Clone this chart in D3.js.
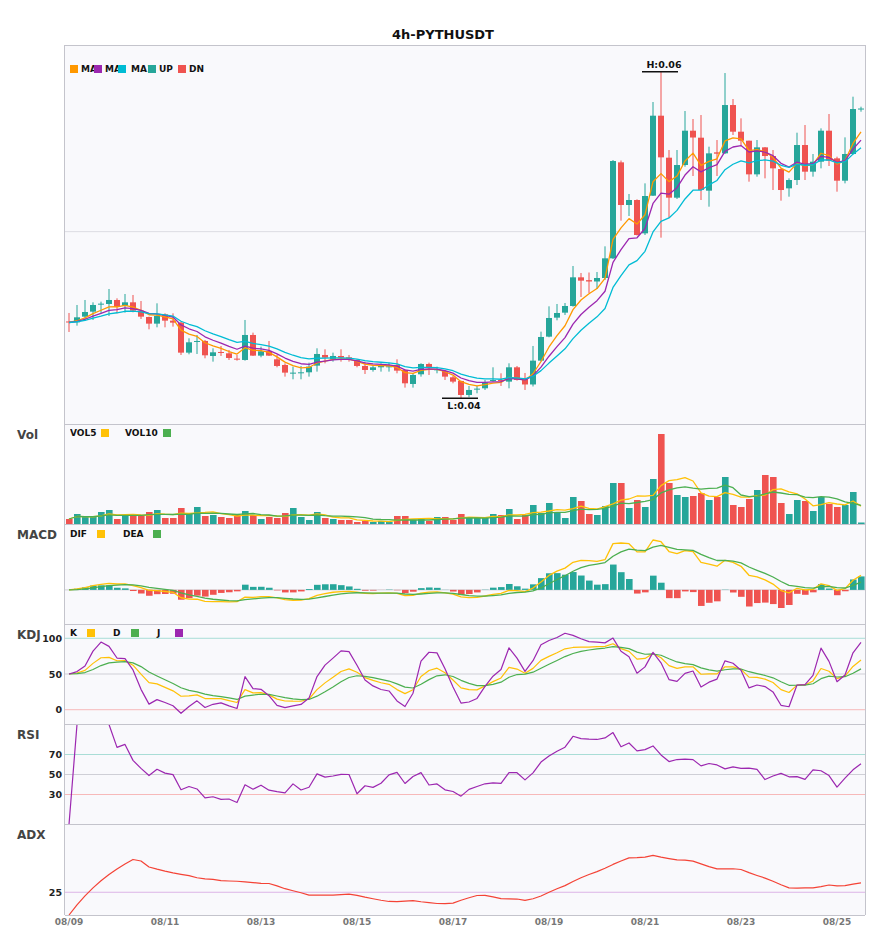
<!DOCTYPE html>
<html>
<head>
<meta charset="utf-8">
<title>4h-PYTHUSDT</title>
<script src="https://cdn.jsdelivr.net/npm/d3@7"></script>
<style>
  body { margin: 0; background: #fff; }
  svg { display: block; font-family: "DejaVu Sans", Verdana, sans-serif; }
</style>
</head>
<body>
<svg id="chart" width="885" height="950"></svg>
<script>
const SYMBOL = '4h-PYTHUSDT';

// 4h candles from 08/09 00:00, [open, high, low, close]
const candles = [
  [0.04461, 0.04512, 0.04398, 0.04455], [0.04456, 0.04560, 0.04436, 0.04486], [0.04490, 0.04590, 0.04466, 0.04518],
  [0.04520, 0.04576, 0.04470, 0.04560], [0.04562, 0.04580, 0.04510, 0.04568], [0.04566, 0.04656, 0.04494, 0.04590],
  [0.04590, 0.04600, 0.04510, 0.04550], [0.04556, 0.04626, 0.04514, 0.04576], [0.04576, 0.04620, 0.04516, 0.04526],
  [0.04526, 0.04584, 0.04476, 0.04490], [0.04488, 0.04490, 0.04414, 0.04448], [0.04448, 0.04570, 0.04426, 0.04494],
  [0.04504, 0.04510, 0.04426, 0.04466], [0.04466, 0.04510, 0.04430, 0.04454], [0.04454, 0.04460, 0.04260, 0.04274],
  [0.04274, 0.04360, 0.04264, 0.04336], [0.04338, 0.04380, 0.04266, 0.04344], [0.04344, 0.04350, 0.04240, 0.04258],
  [0.04254, 0.04300, 0.04220, 0.04276], [0.04278, 0.04314, 0.04254, 0.04272], [0.04270, 0.04290, 0.04230, 0.04242],
  [0.04238, 0.04260, 0.04226, 0.04234], [0.04230, 0.04470, 0.04226, 0.04380], [0.04380, 0.04394, 0.04254, 0.04256],
  [0.04256, 0.04310, 0.04246, 0.04282], [0.04284, 0.04344, 0.04254, 0.04256], [0.04234, 0.04260, 0.04186, 0.04194],
  [0.04200, 0.04210, 0.04130, 0.04154], [0.04152, 0.04190, 0.04114, 0.04154], [0.04154, 0.04194, 0.04114, 0.04156],
  [0.04156, 0.04214, 0.04130, 0.04190], [0.04196, 0.04300, 0.04160, 0.04266], [0.04260, 0.04294, 0.04210, 0.04244],
  [0.04234, 0.04274, 0.04220, 0.04254], [0.04254, 0.04294, 0.04220, 0.04244], [0.04246, 0.04260, 0.04220, 0.04234],
  [0.04230, 0.04234, 0.04186, 0.04194], [0.04194, 0.04220, 0.04146, 0.04170], [0.04170, 0.04194, 0.04160, 0.04186],
  [0.04186, 0.04210, 0.04160, 0.04194], [0.04190, 0.04214, 0.04160, 0.04192], [0.04200, 0.04234, 0.04150, 0.04166],
  [0.04170, 0.04174, 0.04064, 0.04090], [0.04086, 0.04150, 0.04064, 0.04140], [0.04144, 0.04210, 0.04130, 0.04206],
  [0.04206, 0.04214, 0.04140, 0.04186], [0.04172, 0.04190, 0.04150, 0.04174], [0.04164, 0.04170, 0.04110, 0.04130],
  [0.04126, 0.04134, 0.04090, 0.04100], [0.04104, 0.04106, 0.04000, 0.04020], [0.04020, 0.04074, 0.04006, 0.04050],
  [0.04056, 0.04074, 0.04030, 0.04058], [0.04060, 0.04110, 0.04050, 0.04095], [0.04104, 0.04186, 0.04100, 0.04110],
  [0.04110, 0.04150, 0.04074, 0.04104], [0.04100, 0.04210, 0.04060, 0.04186], [0.04186, 0.04194, 0.04106, 0.04110],
  [0.04122, 0.04152, 0.04050, 0.04083], [0.04083, 0.04314, 0.04071, 0.04226], [0.04226, 0.04400, 0.04221, 0.04368],
  [0.04370, 0.04552, 0.04366, 0.04482], [0.04484, 0.04566, 0.04468, 0.04512], [0.04514, 0.04572, 0.04500, 0.04554],
  [0.04554, 0.04794, 0.04550, 0.04726], [0.04726, 0.04752, 0.04608, 0.04706], [0.04709, 0.04755, 0.04632, 0.04701],
  [0.04701, 0.04758, 0.04656, 0.04722], [0.04722, 0.04912, 0.04710, 0.04840], [0.04840, 0.05430, 0.04836, 0.05424],
  [0.05416, 0.05427, 0.05066, 0.05160], [0.05160, 0.05226, 0.05094, 0.05190], [0.05190, 0.05194, 0.04977, 0.04980],
  [0.04990, 0.05290, 0.04980, 0.05214], [0.05216, 0.05778, 0.05214, 0.05696], [0.05696, 0.05960, 0.04964, 0.05446],
  [0.05444, 0.05490, 0.05084, 0.05204], [0.05204, 0.05490, 0.05196, 0.05400], [0.05400, 0.05724, 0.05390, 0.05606],
  [0.05606, 0.05676, 0.05334, 0.05565], [0.05564, 0.05700, 0.05190, 0.05250], [0.05246, 0.05510, 0.05150, 0.05470],
  [0.05476, 0.05550, 0.05334, 0.05468], [0.05470, 0.05952, 0.05466, 0.05760], [0.05760, 0.05796, 0.05580, 0.05600],
  [0.05600, 0.05680, 0.05520, 0.05546], [0.05546, 0.05546, 0.05300, 0.05344], [0.05344, 0.05550, 0.05330, 0.05506],
  [0.05506, 0.05508, 0.05320, 0.05454], [0.05454, 0.05490, 0.05250, 0.05380], [0.05376, 0.05380, 0.05186, 0.05250],
  [0.05260, 0.05320, 0.05210, 0.05310], [0.05310, 0.05594, 0.05280, 0.05520], [0.05520, 0.05640, 0.05310, 0.05360],
  [0.05360, 0.05466, 0.05330, 0.05420], [0.05420, 0.05620, 0.05380, 0.05606], [0.05606, 0.05706, 0.05394, 0.05426],
  [0.05440, 0.05450, 0.05240, 0.05306], [0.05306, 0.05566, 0.05290, 0.05466], [0.05466, 0.05810, 0.05466, 0.05736],
  [0.05736, 0.05750, 0.05720, 0.05739],
];

// volume per candle (millions)
const volumes = [
  5, 10, 7, 7, 12, 14, 5, 9, 8, 9,
  12, 14, 6, 6, 16, 11, 17, 8, 9, 7,
  6, 9, 13, 9, 5, 7, 6, 11, 16, 7,
  4, 12, 6, 5, 4, 4, 2, 3, 2, 3,
  2, 8, 8, 4, 5, 3, 7, 7, 4, 10,
  6, 6, 6, 10, 9, 15, 5, 9, 19, 11,
  21, 12, 6, 27, 23, 10, 9, 18, 41, 41,
  16, 24, 17, 45, 90, 41, 29, 27, 28, 31,
  24, 27, 47, 19, 17, 25, 34, 49, 47, 21,
  10, 24, 23, 13, 27, 20, 17, 19, 32, 1.5,
];

const dateTicks = ['08/09', '08/11', '08/13', '08/15', '08/17', '08/19', '08/21', '08/23', '08/25'];
const candlesPerTick = 12;
const priceGrid = [0.05];
const kdjLevels = [100, 50, 0];
const rsiLevels = [70, 50, 30];
const adxLevels = [25];
const maPeriods = [5, 8, 13];
const volPeriods = [5, 10];
const macdPeriods = [6, 13, 5];

const UP = '#26a69a';
const DN = '#ef5350';
const YELLOW = '#ffc107';
const GREEN = '#4caf50';
const PURPLE = '#9c27b0';
const MA_COLORS = ['#ff9800', PURPLE, '#00bcd4'];
const LEVEL_COLORS = { high: '#a9ddd6', mid: '#cfcfd6', low: '#f7b9b9', adx: '#dcb4e6' };

// ---------- indicator helpers ----------
function ema(values, period) {
  const alpha = 2 / (period + 1);
  let prev = values[0];
  return values.map((v, i) => (prev = i === 0 ? v : alpha * v + (1 - alpha) * prev));
}

function sma(values, period) {
  return values.map((_, i) => d3.mean(values.slice(Math.max(0, i - period + 1), i + 1)));
}

function rsi(closes, period) {
  return closes.map((_, i) => {
    let up = 0;
    let down = 0;
    for (let k = Math.max(1, i - period + 1); k <= i; k++) {
      const diff = closes[k] - closes[k - 1];
      if (diff > 0) up += diff;
      else down -= diff;
    }
    return up + down === 0 ? 0 : (100 * up) / (up + down);
  });
}

function kdj(rows, period = 9) {
  let k = 50;
  let d = 50;
  return rows.map((row, i) => {
    const win = rows.slice(Math.max(0, i - period + 1), i + 1);
    const hi = d3.max(win, (w) => w[1]);
    const lo = d3.min(win, (w) => w[2]);
    const rsv = hi === lo ? 50 : ((row[3] - lo) / (hi - lo)) * 100;
    k = (2 * k + rsv) / 3;
    d = (2 * d + k) / 3;
    return { k, d, j: 3 * k - 2 * d };
  });
}

function adx(rows, period = 10, smooth = 9) {
  let tr = rows[0][1] - rows[0][2];
  let plus = 0;
  let minus = 0;
  let value = 0;
  return rows.map((row, i) => {
    if (i === 0) return 0;
    const [, high, low] = row;
    const prev = rows[i - 1];
    const trNow = Math.max(high - low, Math.abs(high - prev[3]), Math.abs(low - prev[3]));
    const upMove = high - prev[1];
    const downMove = prev[2] - low;
    tr += (trNow - tr) / period;
    plus += ((upMove > downMove && upMove > 0 ? upMove : 0) - plus) / period;
    minus += ((downMove > upMove && downMove > 0 ? downMove : 0) - minus) / period;
    const pdi = (100 * plus) / tr;
    const mdi = (100 * minus) / tr;
    const dx = pdi + mdi === 0 ? 0 : (100 * Math.abs(pdi - mdi)) / (pdi + mdi);
    value += (dx - value) / smooth;
    return value;
  });
}

const closes = candles.map((c) => c[3]);
const maLines = maPeriods.map((p) => ema(closes, p));
const volLines = volPeriods.map((p) => sma(volumes, p));
const emaFast = ema(closes, macdPeriods[0]);
const emaSlow = ema(closes, macdPeriods[1]);
const dif = emaFast.map((v, i) => v - emaSlow[i]);
const dea = ema(dif, macdPeriods[2]);
const macdHist = dif.map((v, i) => 2 * (v - dea[i]));
const kdjRows = kdj(candles);
const rsiLine = rsi(closes, 14);
const adxLine = adx(candles);

// ---------- layout ----------
const svg = d3.select('#chart');
const left = 65;
const right = 865;
const panels = {
  main: { top: 45, bottom: 424 },
  vol: { top: 424, bottom: 524, label: 'Vol' },
  macd: { top: 524, bottom: 624, label: 'MACD' },
  kdj: { top: 624, bottom: 724, label: 'KDJ' },
  rsi: { top: 724, bottom: 824, label: 'RSI' },
  adx: { top: 824, bottom: 915, label: 'ADX' },
};

const x = d3
  .scaleBand()
  .domain(d3.range(candles.length))
  .range([left, right])
  .paddingInner(0.25)
  .paddingOuter(0.125);
const cx = (i) => x(i) + x.bandwidth() / 2;

svg
  .append('text')
  .attr('x', 443)
  .attr('y', 39)
  .attr('text-anchor', 'middle')
  .attr('font-size', 13)
  .attr('font-weight', 'bold')
  .attr('fill', '#111')
  .text(SYMBOL);

const defs = svg.append('defs');

function makePanel(key) {
  const p = panels[key];
  svg
    .append('rect')
    .attr('x', left)
    .attr('y', p.top)
    .attr('width', right - left)
    .attr('height', p.bottom - p.top)
    .attr('fill', '#f9f9fc');
  defs
    .append('clipPath')
    .attr('id', `clip-${key}`)
    .append('rect')
    .attr('x', left)
    .attr('y', p.top)
    .attr('width', right - left)
    .attr('height', p.bottom - p.top);
  if (p.label) {
    svg
      .append('text')
      .attr('x', 17)
      .attr('y', p.top + 15)
      .attr('font-size', 12)
      .attr('font-weight', 'bold')
      .attr('fill', '#444')
      .text(p.label);
  }
  return svg.append('g').attr('clip-path', `url(#clip-${key})`);
}

function levelLines(g, y, levels, colors) {
  levels.forEach((v, i) => {
    g.append('line')
      .attr('x1', left)
      .attr('x2', right)
      .attr('y1', y(v))
      .attr('y2', y(v))
      .attr('stroke', colors[i])
      .attr('stroke-width', 1);
    svg
      .append('text')
      .attr('x', 62)
      .attr('y', y(v) + 3.5)
      .attr('text-anchor', 'end')
      .attr('font-size', 9.5)
      .attr('font-weight', 'bold')
      .attr('fill', '#222')
      .text(v);
  });
}

function drawLine(g, values, y, color, width = 1.2) {
  g.append('path')
    .datum(values)
    .attr('fill', 'none')
    .attr('stroke', color)
    .attr('stroke-width', width)
    .attr('stroke-linejoin', 'round')
    .attr('d', d3.line().x((_, i) => cx(i)).y((v) => y(v)));
}

function legend(items, cy) {
  items.forEach((item, i) => {
    const next = items[i + 1];
    svg
      .append('rect')
      .attr('x', item.sq)
      .attr('y', cy - 4)
      .attr('width', 8)
      .attr('height', 8)
      .attr('fill', item.color);
    const text = svg
      .append('text')
      .attr('x', item.tx)
      .attr('y', cy + 3.3)
      .attr('font-size', 9)
      .attr('font-weight', 'bold')
      .attr('fill', '#111')
      .text(item.label);
    if (next && next.sq > item.tx) {
      const id = `legend-clip-${cy}-${i}`;
      defs
        .append('clipPath')
        .attr('id', id)
        .append('rect')
        .attr('x', item.tx)
        .attr('y', cy - 8)
        .attr('width', next.sq - item.tx)
        .attr('height', 16);
      text.attr('clip-path', `url(#${id})`);
    }
  });
}

// ---------- main candles ----------
const gMain = makePanel('main');
const yPrice = d3
  .scaleLinear()
  .domain([d3.min(candles, (c) => c[2]), d3.max(candles, (c) => c[1])])
  .range([398.3, 71.7]);

priceGrid.forEach((v) => {
  gMain
    .append('line')
    .attr('x1', left)
    .attr('x2', right)
    .attr('y1', yPrice(v))
    .attr('y2', yPrice(v))
    .attr('stroke', '#dcdce2');
});

const candleG = gMain.selectAll('g.candle').data(candles).join('g').attr('class', 'candle');
candleG
  .append('line')
  .attr('x1', (_, i) => cx(i))
  .attr('x2', (_, i) => cx(i))
  .attr('y1', (c) => yPrice(c[1]))
  .attr('y2', (c) => yPrice(c[2]))
  .attr('stroke', (c) => (c[3] >= c[0] ? UP : DN))
  .attr('stroke-width', 1);
candleG
  .append('rect')
  .attr('x', (_, i) => x(i))
  .attr('width', x.bandwidth())
  .attr('y', (c) => yPrice(Math.max(c[0], c[3])))
  .attr('height', (c) => Math.max(1, Math.abs(yPrice(c[0]) - yPrice(c[3]))))
  .attr('fill', (c) => (c[3] >= c[0] ? UP : DN));

MA_COLORS.forEach((color, i) => drawLine(gMain, maLines[i], yPrice, color, 1.3));

// high / low markers
const hiIdx = d3.maxIndex(candles, (c) => c[1]);
const loIdx = d3.minIndex(candles, (c) => c[2]);
[
  { idx: hiIdx, value: candles[hiIdx][1], prefix: 'H', dy: -4 },
  { idx: loIdx, value: candles[loIdx][2], prefix: 'L', dy: 11 },
].forEach((m) => {
  const yy = yPrice(m.value);
  svg
    .append('line')
    .attr('x1', cx(m.idx) - 19)
    .attr('x2', cx(m.idx) + 17)
    .attr('y1', yy)
    .attr('y2', yy)
    .attr('stroke', '#111')
    .attr('stroke-width', 1.5);
  svg
    .append('text')
    .attr('x', cx(m.idx) + 3)
    .attr('y', yy + m.dy)
    .attr('text-anchor', 'middle')
    .attr('font-size', 9.5)
    .attr('font-weight', 'bold')
    .attr('fill', '#111')
    .text(`${m.prefix}:${m.value.toFixed(2)}`);
});

legend(
  [
    { label: `MA${maPeriods[0]}`, color: MA_COLORS[0], sq: 70, tx: 81 },
    { label: `MA${maPeriods[1]}`, color: MA_COLORS[1], sq: 94, tx: 105 },
    { label: `MA${maPeriods[2]}`, color: MA_COLORS[2], sq: 118, tx: 131 },
    { label: 'UP', color: UP, sq: 148, tx: 159 },
    { label: 'DN', color: DN, sq: 178, tx: 189 },
  ],
  69,
);

// ---------- volume ----------
const gVol = makePanel('vol');
const yVol = d3.scaleLinear().domain([0, 100]).range([panels.vol.bottom, panels.vol.top]);
gVol
  .selectAll('rect.vol')
  .data(volumes)
  .join('rect')
  .attr('class', 'vol')
  .attr('x', (_, i) => x(i))
  .attr('width', x.bandwidth() + 0.6)
  .attr('y', (v) => yVol(v))
  .attr('height', (v) => yVol(0) - yVol(v))
  .attr('fill', (_, i) => (candles[i][3] >= candles[i][0] ? UP : DN));
drawLine(gVol, volLines[0], yVol, YELLOW, 1.3);
drawLine(gVol, volLines[1], yVol, GREEN, 1.3);
legend(
  [
    { label: 'VOL5', color: YELLOW, sq: 101, tx: 70 },
    { label: 'VOL10', color: GREEN, sq: 163, tx: 125 },
  ],
  panels.vol.top + 9,
);

// ---------- MACD ----------
const gMacd = makePanel('macd');
const macdExtent = d3.extent([...dif, ...dea, ...macdHist]);
const yMacd = d3.scaleLinear().domain(macdExtent).range([panels.macd.bottom - 16, panels.macd.top + 16]);
gMacd
  .append('line')
  .attr('x1', left)
  .attr('x2', right)
  .attr('y1', yMacd(0))
  .attr('y2', yMacd(0))
  .attr('stroke', '#d0d0d6');
gMacd
  .selectAll('rect.hist')
  .data(macdHist)
  .join('rect')
  .attr('class', 'hist')
  .attr('x', (_, i) => x(i))
  .attr('width', x.bandwidth() + 0.6)
  .attr('y', (v) => Math.min(yMacd(0), yMacd(v)))
  .attr('height', (v) => Math.abs(yMacd(v) - yMacd(0)))
  .attr('fill', (v) => (v >= 0 ? UP : DN));
drawLine(gMacd, dif, yMacd, YELLOW, 1.3);
drawLine(gMacd, dea, yMacd, GREEN, 1.3);
legend(
  [
    { label: 'DIF', color: YELLOW, sq: 97, tx: 70 },
    { label: 'DEA', color: GREEN, sq: 153, tx: 123 },
  ],
  panels.macd.top + 10,
);

// ---------- KDJ ----------
const gKdj = makePanel('kdj');
const yKdj = d3.scaleLinear().domain([-20, 120]).range([panels.kdj.bottom, panels.kdj.top]);
levelLines(gKdj, yKdj, kdjLevels, [LEVEL_COLORS.high, LEVEL_COLORS.mid, LEVEL_COLORS.low]);
drawLine(gKdj, kdjRows.map((r) => r.k), yKdj, YELLOW);
drawLine(gKdj, kdjRows.map((r) => r.d), yKdj, GREEN);
drawLine(gKdj, kdjRows.map((r) => r.j), yKdj, PURPLE);
legend(
  [
    { label: 'K', color: YELLOW, sq: 87, tx: 70 },
    { label: 'D', color: GREEN, sq: 131, tx: 113 },
    { label: 'J', color: PURPLE, sq: 175, tx: 157 },
  ],
  panels.kdj.top + 9,
);

// ---------- RSI ----------
const gRsi = makePanel('rsi');
const yRsi = d3.scaleLinear().domain([0, 100]).range([panels.rsi.bottom + 0.5, panels.rsi.top + 0.5]);
levelLines(gRsi, yRsi, rsiLevels, [LEVEL_COLORS.high, LEVEL_COLORS.mid, LEVEL_COLORS.low]);
drawLine(gRsi, rsiLine, yRsi, PURPLE);

// ---------- ADX ----------
const gAdx = makePanel('adx');
const yAdx = d3.scaleLinear().domain([0, 100]).range([panels.adx.bottom, panels.adx.top]);
levelLines(gAdx, yAdx, adxLevels, [LEVEL_COLORS.adx]);
drawLine(gAdx, adxLine, yAdx, '#f44336');

// ---------- frame lines ----------
const frame = svg.append('g').attr('fill', 'none').attr('stroke', '#c4c4cc').attr('stroke-width', 1);
Object.values(panels).forEach((p) => {
  frame.append('line').attr('x1', left).attr('x2', right).attr('y1', p.top + 0.5).attr('y2', p.top + 0.5);
});
frame.append('line').attr('x1', left).attr('x2', right).attr('y1', 915.5).attr('y2', 915.5);
frame.append('line').attr('x1', left - 0.5).attr('x2', left - 0.5).attr('y1', 45).attr('y2', 915);
frame.append('line').attr('x1', right + 0.5).attr('x2', right + 0.5).attr('y1', 45).attr('y2', 915);

// ---------- time axis ----------
svg
  .append('g')
  .selectAll('text')
  .data(dateTicks)
  .join('text')
  .attr('x', (_, i) => cx(i * candlesPerTick))
  .attr('y', 925)
  .attr('text-anchor', 'middle')
  .attr('font-size', 9)
  .attr('font-weight', 'bold')
  .attr('fill', '#777')
  .text((d) => d);
</script>
</body>
</html>
